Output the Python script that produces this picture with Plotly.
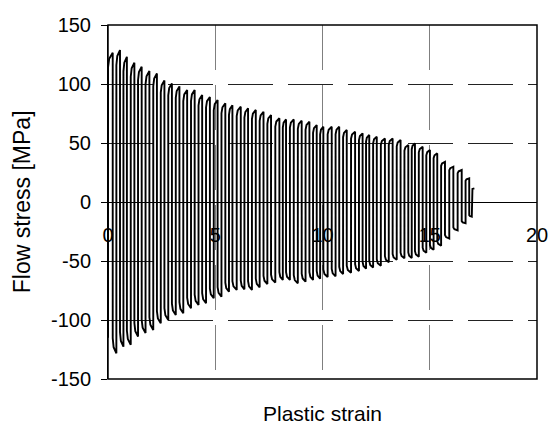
import plotly.graph_objects as go

# Tension peaks (strain at end of tensile half-cycle, peak stress in MPa)
tension_strain = [0.22, 0.56, 0.88, 1.23, 1.57, 1.93, 2.28, 2.63, 2.98, 3.33,
                  3.69, 4.04, 4.39, 4.75, 5.11, 5.47, 5.80, 6.19, 6.53, 6.89,
                  7.25, 7.60, 7.99, 8.30, 8.66, 9.03, 9.39, 9.73, 10.04, 10.43,
                  10.78, 11.13, 11.52, 11.87, 12.18, 12.53, 12.91, 13.27, 13.64, 14.00,
                  14.31, 14.67, 15.01, 15.35, 15.71, 16.10, 16.49, 16.84, 17.08]
tension_peak = [126.5, 128.8, 123, 118, 114.7, 111, 109, 103, 100.5, 98,
                95, 95, 90.7, 89, 86.4, 83.6, 82, 80.8, 79.4, 78,
                76.5, 73.7, 71, 70, 70, 68.9, 68, 65.2, 63.8, 63.8,
                63.8, 61, 59.6, 58.2, 56.8, 55.3, 53.9, 53.9, 52.5, 48.3,
                49.7, 46.8, 44, 41.2, 34.1, 29.9, 27.1, 20, 11.6]

# Compression peaks (strain at end of compressive half-cycle, peak stress in MPa)
compression_strain = [0.0, 0.39, 0.72, 1.06, 1.40, 1.75, 2.11, 2.46, 2.81, 3.16,
                      3.51, 3.87, 4.22, 4.57, 4.93, 5.29, 5.64, 6.00, 6.36, 6.71,
                      7.07, 7.43, 7.80, 8.15, 8.48, 8.85, 9.21, 9.56, 9.89, 10.24,
                      10.61, 10.96, 11.33, 11.70, 12.03, 12.36, 12.72, 13.09, 13.46, 13.82,
                      14.16, 14.49, 14.84, 15.18, 15.53, 15.91, 16.30, 16.67, 16.96]
compression_peak = [-115, -128.2, -122.6, -121, -114, -111, -108.4, -102.8, -100, -95.7,
                    -94.3, -90, -87.3, -85.8, -81.6, -80.2, -76, -74.5, -74, -74.5,
                    -72.3, -69.5, -68.3, -66, -66, -68.9, -67.5, -66, -65, -63.5,
                    -63, -61, -60, -58.5, -56.5, -55.5, -54, -51, -49, -47.7,
                    -47.5, -46.3, -43, -40.5, -37, -31, -24, -18, -12.4]

x_ticks = [0, 5, 10, 15, 20]
y_ticks = [-150, -100, -50, 0, 50, 100, 150]

# Build the loop path from the reversal points (vertical elastic jump, then
# short hardening flow up to the peak).
xs, ys = [], []
for i in range(len(tension_strain)):
    b, c = compression_strain[i], compression_peak[i]
    t, p = tension_strain[i], tension_peak[i]
    if i == 0:
        xs.append(b); ys.append(c)
    xs += [b, b + 0.25 * (t - b), t]
    ys += [0.9 * p, 0.96 * p, p]
    if i + 1 < len(compression_strain):
        b2, c2 = compression_strain[i + 1], compression_peak[i + 1]
        xs += [t, t + 0.25 * (b2 - t), b2]
        ys += [0.9 * c2, 0.96 * c2, c2]

fig = go.Figure()
fig.add_trace(go.Scatter(x=xs, y=ys, mode="lines",
                         line=dict(color="black", width=1.9),
                         hoverinfo="skip", showlegend=False))

family = "Liberation Sans, Arial, sans-serif"
font = dict(family=family, size=20, color="black")

fig.update_layout(
    width=551, height=427,
    margin=dict(l=108, r=14, t=25, b=48, autoexpand=False),
    paper_bgcolor="white", plot_bgcolor="white",
    font=font,
    showlegend=False,
    hovermode=False,
    xaxis=dict(range=[0, 20], tickvals=x_ticks, ticktext=[str(v) for v in x_ticks],
               anchor="free", position=0.5, showline=True, linecolor="black",
               linewidth=1, ticks="", showgrid=True, gridcolor="#7f7f7f",
               gridwidth=1, griddash="45px,15px", zeroline=False,
               tickfont=font, layer="above traces", automargin=False,
               ticklabelstandoff=15),
    yaxis=dict(range=[-150, 150], tickvals=y_ticks, ticktext=[str(v) for v in y_ticks],
               showline=True, linecolor="black", linewidth=1, ticks="outside",
               ticklen=6, tickcolor="black", showgrid=True, gridcolor="#222222",
               gridwidth=1, griddash="45px,15px", zeroline=False, tickfont=font,
               ticklabelstandoff=6, automargin=False),
    shapes=[dict(type="rect", xref="paper", yref="paper", x0=0, y0=0, x1=1, y1=1,
                 line=dict(color="black", width=1.5), layer="above")],
    annotations=[
        dict(text="Plastic strain", xref="paper", yref="paper", x=0.5, y=-0.097,
             xanchor="center", yanchor="middle", showarrow=False,
             font=dict(family=family, size=21, color="black")),
        dict(text="Flow stress [MPa]", xref="paper", yref="paper", x=-0.2, y=0.5,
             xanchor="center", yanchor="middle", textangle=-90, showarrow=False,
             font=dict(family=family, size=23, color="black")),
    ],
)

fig.write_html("out.html",
               config={"displayModeBar": False, "staticPlot": True},
               post_script="document.body.style.margin='0px';"
                           "document.body.style.overflow='hidden';")
